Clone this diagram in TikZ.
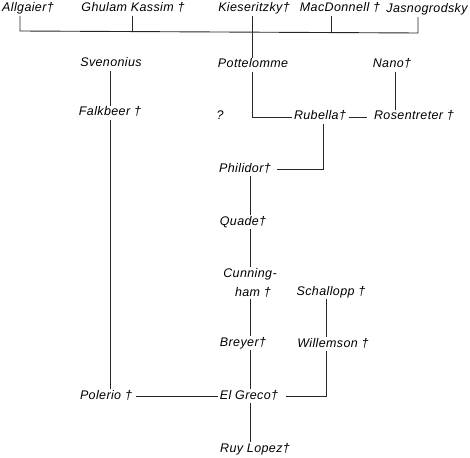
\documentclass[tikz,border=0pt]{standalone}
\usepackage{fontspec}
\setmainfont{Liberation Sans}[LetterSpace=3]
\begin{document}
\begin{tikzpicture}[x=1pt,y=1pt,
  nm/.style={font=\fontsize{12.5}{14}\selectfont\itshape, inner sep=1.5pt, text height=8.5pt, text depth=2.5pt},
  ln/.style={line width=0.9pt, black!85}]
\useasboundingbox (0,0) rectangle (470,-457);
% names
\node[nm] (allg) at (28,-9) {Allgaier†};
\node[nm] (ghul) at (133,-9) {Ghulam Kassim †};
\node[nm] (kies) at (254,-9) {Kieseritzky†};
\node[nm] (macd) at (340,-9) {MacDonnell †};
\node[nm] (jas) at (427,-10) {Jasnogrodsky};
\node[nm] (sven) at (111,-64) {Svenonius};
\node[nm] (pott) at (253,-65) {Pottelomme};
\node[nm] (nano) at (392,-65) {Nano†};
\node[nm] (falk) at (110,-113) {Falkbeer †};
\node[nm] (q) at (220,-117) {?};
\node[nm] (rub) at (320,-117) {Rubella†};
\node[nm] (ros) at (414,-117) {Rosentreter †};
\node[nm] (phil) at (245,-169) {Philidor†};
\node[nm] (quade) at (243,-222) {Quade†};
\node[nm, text height=, text depth=, align=center, font=\fontsize{12.5}{19}\selectfont\itshape] (cunn) at (250,-283) {Cunning-\\\hspace*{6pt}ham †};
\node[nm] (schal) at (331,-292) {Schallopp †};
\node[nm] (breyer) at (243,-343) {Breyer†};
\node[nm] (will) at (333,-344) {Willemson †};
\node[nm] (pol) at (106,-396) {Polerio †};
\node[nm] (elg) at (249,-396) {El Greco†};
\node[nm] (ruy) at (255,-449) {Ruy Lopez†};
% junction coordinates
\coordinate (jA) at (20,-31);
\coordinate (jG) at (132,-31);
\coordinate (jM) at (331,-32);
\coordinate (jJ) at (418,-33);
\coordinate (xF) at (110,0);
\coordinate (xK) at (252,0);
\coordinate (xN) at (395,0);
\coordinate (xR) at (323,0);
\coordinate (xC) at (250,0);
\coordinate (xW) at (326,0);
% top bracket
\draw[ln] (allg.south -| jA) -- (jA) -- (jJ) -- (jas.south -| jJ);
\draw[ln] (ghul.south -| jG) -- (jG);
\draw[ln] (macd.south -| jM) -- (jM);
\draw[ln] (kies.south -| xK) -- (pott.north -| xK);
% left chain
\draw[ln] (sven.south -| xF) -- (falk.north -| xF);
\draw[ln] (falk.south -| xF) -- (pol.north -| xF);
\draw[ln, shorten <=2pt] (pol.east) -- (elg.west);
% Pottelomme to Rubella
\draw[ln] (pott.south -| xK) |- (rub.west);
\draw[ln, shorten <=1pt, shorten >=5pt] (rub.east) -- (ros.west);
\draw[ln] (nano.south -| xN) -- (ros.north -| xN);
% Rubella to Philidor
\draw[ln, shorten >=4pt] (rub.south -| xR) |- (phil.east);
% central chain
\draw[ln] (phil.south -| xC) -- (quade.north -| xC);
\draw[ln] (quade.south -| xC) -- (cunn.north -| xC);
\draw[ln] (cunn.south -| xC) -- (breyer.north -| xC);
\draw[ln] (breyer.south -| xC) -- (elg.north -| xC);
\draw[ln] (elg.south -| xC) -- (ruy.north -| xC);
% Schallopp / Willemson
\draw[ln] (schal.south -| xW) -- (will.north -| xW);
\draw[ln, shorten >=6pt] (will.south -| xW) |- (elg.east);
\end{tikzpicture}
\end{document}
